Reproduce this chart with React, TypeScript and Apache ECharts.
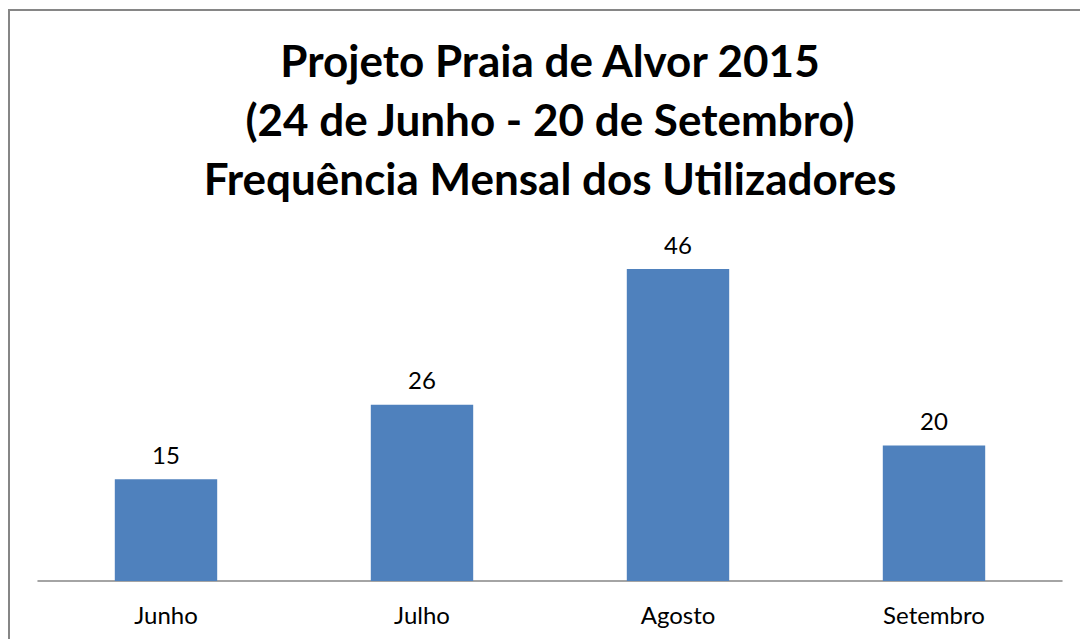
import React, { useEffect, useRef } from "react";
import * as echarts from "echarts";

const titleLines = [
  "Projeto Praia de Alvor 2015",
  "(24 de Junho - 20 de Setembro)",
  "Frequência Mensal dos Utilizadores",
];
const months = ["Junho", "Julho", "Agosto", "Setembro"];
const users = [15, 26, 46, 20];

export default function App() {
  const ref = useRef<HTMLDivElement>(null);
  useEffect(() => {
    document.body.style.margin = "0";
    const chart = echarts.init(ref.current!, null, { renderer: "svg" });
    const font = "Lato, 'Open Sans', 'Noto Sans', sans-serif";
    chart.setOption({
      animation: false,
      backgroundColor: "#ffffff",
      title: {
        text: titleLines.join("\n"),
        left: 545,
        textAlign: "center",
        top: 25,
        textStyle: {
          fontFamily: font,
          fontSize: 44,
          fontWeight: "bold",
          color: "#000",
          lineHeight: 59,
        },
      },
      graphic: [
        {
          type: "rect",
          shape: { x: 9, y: 10, width: 1200, height: 800 },
          style: { fill: "none", stroke: "#868686", lineWidth: 2 },
          silent: true,
        },
      ],
      grid: { left: 38, right: 18, top: 242, bottom: 58 },
      xAxis: {
        type: "category",
        data: months,
        axisLine: { lineStyle: { color: "#868686", width: 1.5 } },
        axisTick: { show: false },
        axisLabel: { fontFamily: font, fontSize: 24, color: "#000", margin: 21 },
      },
      yAxis: {
        type: "value",
        min: 0,
        max: 50,
        show: false,
        splitLine: { show: false },
      },
      series: [
        {
          type: "bar",
          data: users,
          barWidth: "40%",
          itemStyle: { color: "#4f81bd" },
          label: {
            show: true,
            position: "top",
            distance: 13,
            fontFamily: font,
            fontSize: 24,
            color: "#000",
          },
        },
      ],
    });
    return () => chart.dispose();
  }, []);
  return (
    <div
      ref={ref}
      style={{ position: "absolute", left: 0, top: 0, width: 1080, height: 639 }}
    />
  );
}
